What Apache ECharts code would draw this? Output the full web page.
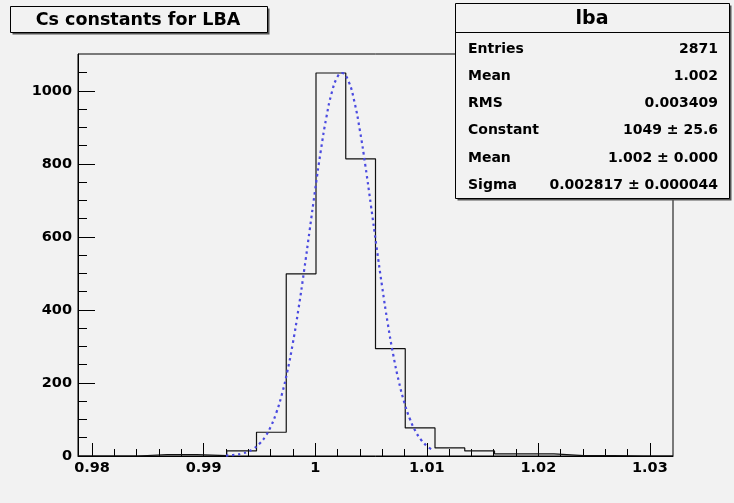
<!DOCTYPE html>
<html>
<head>
<meta charset="utf-8">
<script src="https://cdn.jsdelivr.net/npm/echarts@6/dist/echarts.min.js"></script>
<style>
html,body{margin:0;padding:0;background:#f2f2f2;}
#chart{width:734px;height:503px;}
</style>
</head>
<body>
<div id="chart"></div>
<script>
// ---- data ----
const titleText = 'Cs constants for LBA';
const histName = 'lba';
const binLow = 0.97874;
const binHigh = 1.03207;
const counts = [0, 0, 4, 4, 1, 14, 65, 499, 1049, 814, 294, 77, 22, 14, 6, 6, 1, 1, 0, 0];
// Gaussian fit curve (Constant 1049, Mean 1.0024, Sigma 0.002817), sampled
const fitX = [0.9920,0.9925,0.9930,0.9935,0.9940,0.9945,0.9950,0.9955,0.9960,0.9965,0.9970,0.9975,0.9980,0.9985,0.9990,0.9995,1.0000,1.0005,1.0010,1.0015,1.0020,1.0024,1.0025,1.0030,1.0035,1.0040,1.0045,1.0050,1.0055,1.0060,1.0065,1.0070,1.0075,1.0080,1.0085,1.0090,1.0095,1.0100,1.0104];
const fitY = [1.15,2.18,4.0,7.13,12.3,20.6,33.3,52.2,79.4,117.1,167.1,231.1,309.7,402.5,506.4,617.5,729.8,835.6,927.1,996.8,1038.5,1049,1048.3,1025.5,972.0,892.7,794.5,685.2,572.6,463.6,363.7,276.5,203.7,145.4,100.6,67.4,43.8,27.5,18.6];
const xMajor = [0.98, 0.99, 1.00, 1.01, 1.02, 1.03];
const xMinor = [0.982,0.984,0.986,0.988,0.992,0.994,0.996,0.998,1.002,1.004,1.006,1.008,1.012,1.014,1.016,1.018,1.022,1.024,1.026,1.028];
const yMajor = [0, 200, 400, 600, 800, 1000];
const yMinor = [50,100,150,250,300,350,450,500,550,650,700,750,850,900,950,1050];
const yMax = 1101;
const statLabels = ['Entries', 'Mean', 'RMS', 'Constant', 'Mean', 'Sigma'];
const statValues = ['2871', '1.002', '0.003409', '1049 \u00b1 25.6', '1.002 \u00b1 0.000', '0.002817 \u00b1 0.000044'];

// ---- build ----
const nBins = counts.length;
const bw = (binHigh - binLow) / nBins;
const histData = [];
for (let k = 0; k < nBins; k++) histData.push([binLow + k * bw, counts[k]]);
histData.push([binHigh, counts[nBins - 1]]);
const fitData = fitX.map((x, i) => [x, fitY[i]]);

const FONT = '"DejaVu Sans", Verdana, sans-serif';
const BG = '#f2f2f2';

const graphics = [];
// title box
graphics.push({type:'rect', shape:{x:12.5, y:8.5, width:257, height:26}, style:{fill:'#555'}, z:100});
graphics.push({type:'rect', shape:{x:10.5, y:6.5, width:257, height:26}, style:{fill:BG, stroke:'#000', lineWidth:1}, z:101});
graphics.push({type:'text', x:138, y:20, style:{text:titleText, font:'bold 17.5px ' + FONT, fill:'#000', align:'center', verticalAlign:'middle'}, z:102});
// stats box
graphics.push({type:'rect', shape:{x:457.5, y:5.5, width:274, height:195}, style:{fill:'#555'}, z:100});
graphics.push({type:'rect', shape:{x:455.5, y:3.5, width:274, height:195}, style:{fill:BG, stroke:'#000', lineWidth:1}, z:101});
graphics.push({type:'line', shape:{x1:455.5, y1:32.5, x2:729.5, y2:32.5}, style:{stroke:'#000', lineWidth:1}, z:102});
graphics.push({type:'text', x:592, y:19, style:{text:histName, font:'bold 19px ' + FONT, fill:'#000', align:'center', verticalAlign:'middle'}, z:102});
const rowY = [49, 76, 103, 130.5, 158, 185];
statLabels.forEach((t, i) => {
  graphics.push({type:'text', x:468, y:rowY[i], style:{text:t, font:'bold 14px ' + FONT, fill:'#000', align:'left', verticalAlign:'middle'}, z:102});
  graphics.push({type:'text', x:718, y:rowY[i], style:{text:statValues[i], font:'bold 14px ' + FONT, fill:'#000', align:'right', verticalAlign:'middle'}, z:102});
});

const axisLabelStyle = {fontFamily: FONT, fontWeight: 'bold', fontSize: 14.5, color: '#000', formatter: v => String(+(+v).toFixed(4))};

const option = {
  animation: false,
  backgroundColor: BG,
  grid: {left: 78, right: 61, top: 54, bottom: 47, show: true, borderColor: '#000', borderWidth: 1, backgroundColor: 'transparent'},
  xAxis: [
    {type:'value', min: binLow, max: binHigh, position:'bottom',
     axisLine:{show:true, onZero:false, lineStyle:{color:'#000', width:1}},
     axisTick:{show:true, inside:true, length:13, customValues: xMajor, lineStyle:{color:'#000'}},
     axisLabel:Object.assign({show:true, margin:5, customValues: xMajor}, axisLabelStyle),
     splitLine:{show:false}},
    {type:'value', min: binLow, max: binHigh, position:'bottom', offset:0,
     axisLine:{show:false},
     axisTick:{show:true, inside:true, length:7, customValues: xMinor, lineStyle:{color:'#000'}},
     axisLabel:{show:false},
     splitLine:{show:false}}
  ],
  yAxis: [
    {type:'value', min: 0, max: yMax, position:'left',
     axisLine:{show:true, onZero:false, lineStyle:{color:'#000', width:1}},
     axisTick:{show:true, inside:true, length:17, customValues: yMajor, lineStyle:{color:'#000'}},
     axisLabel:Object.assign({show:true, margin:6, customValues: yMajor}, axisLabelStyle),
     splitLine:{show:false}},
    {type:'value', min: 0, max: yMax, position:'left', offset:0,
     axisLine:{show:false},
     axisTick:{show:true, inside:true, length:9, customValues: yMinor, lineStyle:{color:'#000'}},
     axisLabel:{show:false},
     splitLine:{show:false}}
  ],
  series: [
    {type:'line', name:'hist', xAxisIndex:0, yAxisIndex:0, step:'end', data: histData, symbol:'none',
     lineStyle:{color:'#111', width:1.2}, z:3},
    {type:'line', name:'fit', xAxisIndex:0, yAxisIndex:0, data: fitData, symbol:'none', smooth:true,
     lineStyle:{color:'#4a4ae0', width:2.2, type:[2.5,3.5]}, z:4}
  ],
  graphic: graphics
};

const chart = echarts.init(document.getElementById('chart'), null, {renderer:'canvas'});
chart.setOption(option);
</script>
</body>
</html>
